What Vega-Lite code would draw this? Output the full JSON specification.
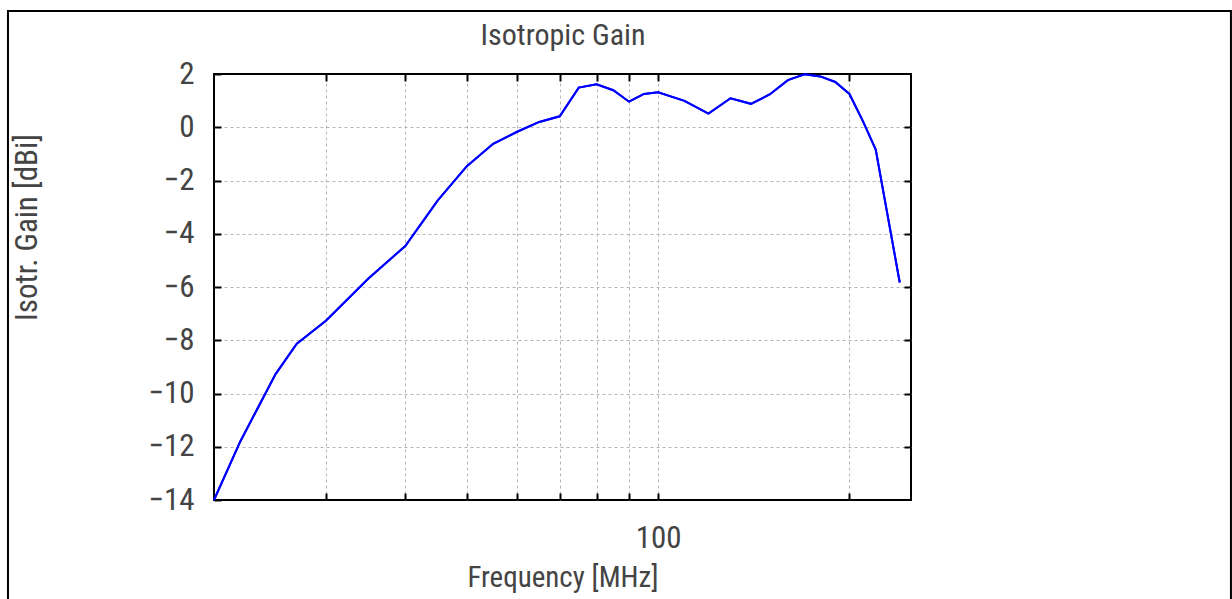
{
  "$schema": "https://vega.github.io/schema/vega-lite/v6.json",
  "width": 697,
  "height": 426,
  "padding": {"left": 6, "top": 9, "right": 0, "bottom": 0},
  "autosize": {"type": "pad"},
  "background": "white",
  "config": {
    "view": {"stroke": "black", "strokeWidth": 2},
    "axis": {
      "domain": false,
      "tickSize": -7,
      "tickColor": "black",
      "tickWidth": 2,
      "labelFont": "Roboto Condensed",
      "labelFontSize": 31,
      "labelColor": "#444444",
      "titleFont": "Roboto Condensed",
      "titleFontWeight": "normal",
      "titleColor": "#444444",
      "gridColor": "#b4b4b4",
      "gridDash": [3, 3],
      "gridWidth": 1
    }
  },
  "data": {
    "values": [
      {"freq": 20, "gain": -14.0},
      {"freq": 22, "gain": -11.8},
      {"freq": 25, "gain": -9.27},
      {"freq": 27, "gain": -8.13},
      {"freq": 30, "gain": -7.27},
      {"freq": 35, "gain": -5.68},
      {"freq": 40, "gain": -4.46},
      {"freq": 45, "gain": -2.75},
      {"freq": 50, "gain": -1.46},
      {"freq": 55, "gain": -0.62},
      {"freq": 60, "gain": -0.17},
      {"freq": 65, "gain": 0.2},
      {"freq": 70, "gain": 0.41},
      {"freq": 75, "gain": 1.49},
      {"freq": 80, "gain": 1.61},
      {"freq": 85, "gain": 1.39},
      {"freq": 90, "gain": 0.96},
      {"freq": 95, "gain": 1.25},
      {"freq": 100, "gain": 1.31},
      {"freq": 110, "gain": 0.99},
      {"freq": 120, "gain": 0.51},
      {"freq": 130, "gain": 1.09},
      {"freq": 140, "gain": 0.88},
      {"freq": 150, "gain": 1.24},
      {"freq": 160, "gain": 1.77},
      {"freq": 170, "gain": 1.99},
      {"freq": 180, "gain": 1.91},
      {"freq": 190, "gain": 1.7},
      {"freq": 200, "gain": 1.25},
      {"freq": 210, "gain": 0.23},
      {"freq": 220, "gain": -0.84},
      {"freq": 240, "gain": -5.83}
    ]
  },
  "layer": [
    {
      "mark": {"type": "line", "color": "#0000ff", "strokeWidth": 2},
      "encoding": {
        "x": {
          "field": "freq",
          "type": "quantitative",
          "scale": {"type": "log", "domain": [20, 250], "nice": false},
          "axis": {
            "orient": "bottom",
            "values": [30, 40, 50, 60, 70, 80, 90, 100, 200],
            "labelExpr": "datum.value == 100 ? '100' : ''",
            "grid": false,
            "labelPadding": 30,
            "title": "Frequency [MHz]",
            "titleFontSize": 29,
            "titlePadding": 10
          }
        },
        "y": {
          "field": "gain",
          "type": "quantitative",
          "scale": {"domain": [-14, 2], "nice": false, "zero": false},
          "axis": {
            "orient": "left",
            "values": [-14, -12, -10, -8, -6, -4, -2, 0, 2],
            "grid": false,
            "labelPadding": 27,
            "title": "Isotr. Gain [dBi]",
            "titleFontSize": 31,
            "titlePadding": 104,
            "titleY": 153
          }
        }
      }
    },
    {
      "mark": {"type": "line", "color": "#0000ff", "strokeWidth": 2},
      "encoding": {
        "x": {
          "field": "freq",
          "type": "quantitative",
          "scale": {"type": "log", "domain": [20, 250], "nice": false},
          "axis": {
            "orient": "top",
            "values": [30, 40, 50, 60, 70, 80, 90, 100, 200],
            "labels": false,
            "grid": true,
            "title": "Isotropic Gain",
            "titleFontSize": 30,
            "titlePadding": 23
          }
        },
        "y": {
          "field": "gain",
          "type": "quantitative",
          "scale": {"domain": [-14, 2], "nice": false, "zero": false},
          "axis": {
            "orient": "right",
            "values": [-12, -10, -8, -6, -4, -2, 0],
            "labels": false,
            "grid": true,
            "title": null
          }
        }
      }
    },
    {
      "data": {"values": [{}]},
      "mark": {"type": "rect", "filled": false, "color": "black", "strokeWidth": 2, "clip": false},
      "encoding": {
        "x": {"datum": 9.48, "type": "quantitative", "axis": null},
        "x2": {"datum": 797},
        "y": {"datum": 4.37, "type": "quantitative", "axis": null},
        "y2": {"datum": -21.5}
      }
    }
  ],
  "resolve": {"axis": {"x": "independent", "y": "independent"}}
}
